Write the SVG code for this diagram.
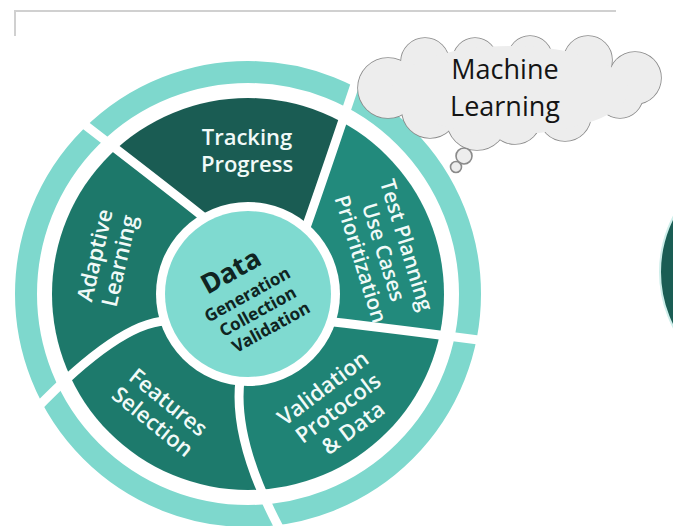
<svg xmlns="http://www.w3.org/2000/svg" width="673" height="526" viewBox="0 0 673 526">
  <style>
    .seg { stroke: none; }
    .lbl { font-family: "Open Sans", "Liberation Sans", sans-serif; font-weight: 600; font-size: 22px; fill: #f1faf8; text-anchor: middle; }
    .core { font-family: "Noto Sans", "Liberation Sans", sans-serif; font-weight: 700; fill: #0f2421; text-anchor: middle; }
    .divider { fill: none; stroke: #ffffff; stroke-width: 9; }
    .puff { fill: #ededed; stroke: #8a8a8a; stroke-width: 1.6; }
    .puff-fill { fill: #ededed; stroke: none; }
    .cloud-text { font-family: "Open Sans", "Liberation Sans", sans-serif; font-size: 27px; fill: #141414; text-anchor: middle; }
  </style>
  <defs>
    <clipPath id="disk">
      <circle cx="248" cy="294" r="196"/>
    </clipPath>
  </defs>

  <rect width="673" height="526" fill="#ffffff"/>

  <!-- page frame corner -->
  <path d="M15 36 V11 H616" fill="none" stroke="#d0d0d0" stroke-width="2"/>

  <!-- disc peeking in from the right edge -->
  <g id="edge-disc">
    <circle cx="780" cy="272" r="120" fill="#1a5d54" stroke="#cdeeea" stroke-width="2"/>
  </g>

  <!-- outer light ring -->
  <g id="outer-ring">
    <circle cx="248" cy="294" r="222" fill="none" stroke="#7ed8cd" stroke-width="22"/>
  </g>

  <!-- wheel segments -->
  <g id="tracking-progress">
    <path class="seg" clip-path="url(#disk)" fill="#1a5c53" d="M205.9 219 Q173.2 192.75 76.9 118.7 A245 245 0 0 1 358.1 75.1 Q319.35 190.35 305.2 229.8 Z"/>
  </g>
  <g id="test-planning">
    <path class="seg" clip-path="url(#disk)" fill="#228a7c" d="M305.2 229.8 Q319.35 190.35 358.1 75.1 A245 245 0 0 1 490 341.5 Q390.5 328.5 329 321.5 Z"/>
  </g>
  <g id="validation-protocols">
    <path class="seg" clip-path="url(#disk)" fill="#1f8375" d="M329 321.5 Q390.5 328.5 490 341.5 A245 245 0 0 1 283 535 Q232.5 442.5 240 380 Z"/>
  </g>
  <g id="features-selection">
    <path class="seg" clip-path="url(#disk)" fill="#1d7a6c" d="M240 380 Q232.5 442.5 283 535 A245 245 0 0 1 35 410 Q119.5 322.5 166 321 Z"/>
  </g>
  <g id="adaptive-learning">
    <path class="seg" clip-path="url(#disk)" fill="#1d786a" d="M166 321 Q119.5 322.5 35 410 A245 245 0 0 1 76.9 118.7 Q173.2 192.75 205.9 219 Z"/>
  </g>

  <!-- white curved dividers cutting through segments and ring -->
  <g id="dividers">
    <path class="divider" d="M205.9 219 Q173.2 192.75 76.9 118.7"/>
    <path class="divider" d="M305.2 229.8 Q319.35 190.35 358.1 75.1"/>
    <path class="divider" d="M329 321.5 Q390.5 328.5 490 341.5"/>
    <path class="divider" d="M240 380 Q232.5 442.5 283 535"/>
    <path class="divider" d="M166 321 Q119.5 322.5 35 410"/>
  </g>

  <!-- segment labels -->
  <g id="labels">
    <text class="lbl" x="247" y="145">Tracking</text>
    <text class="lbl" x="247" y="172">Progress</text>

    <g transform="translate(107,258) rotate(-77)">
      <text class="lbl" x="0" y="-4.8">Adaptive</text>
      <text class="lbl" x="0" y="20.2">Learning</text>
    </g>

    <g transform="translate(384,252) rotate(73)">
      <text class="lbl" style="font-size:21px" x="0" y="-16.3">Test Planning</text>
      <text class="lbl" style="font-size:21px" x="0" y="7.7">Use Cases</text>
      <text class="lbl" style="font-size:21px" x="0" y="31.7">Prioritization</text>
    </g>

    <g transform="translate(160.5,412) rotate(39)">
      <text class="lbl" x="0" y="-4.8">Features</text>
      <text class="lbl" x="0" y="20.2">Selection</text>
    </g>

    <g transform="translate(338,408) rotate(-37)">
      <text class="lbl" x="0" y="-17.3">Validation</text>
      <text class="lbl" x="0" y="7.7">Protocols</text>
      <text class="lbl" x="0" y="32.7">&amp; Data</text>
    </g>
  </g>

  <!-- hub -->
  <g id="data-hub">
    <circle cx="248" cy="294" r="92" fill="#ffffff"/>
    <circle cx="248" cy="294" r="83" fill="#7fdad0"/>
    <g transform="translate(248,294) rotate(-29)">
      <text class="core" x="-4" y="-19" font-size="27">Data</text>
      <text class="core" x="-1" y="6" font-size="17">Generation</text>
      <text class="core" x="0" y="26" font-size="17">Collection</text>
      <text class="core" x="4" y="46" font-size="17">Validation</text>
    </g>
  </g>

  <!-- thought cloud -->
  <g id="ml-cloud">
    <g>
      <circle class="puff" cx="388" cy="88" r="30"/>
      <circle class="puff" cx="430" cy="110" r="28"/>
      <circle class="puff" cx="477" cy="120" r="30"/>
      <circle class="puff" cx="515" cy="118" r="26"/>
      <circle class="puff" cx="565" cy="115" r="26"/>
      <circle class="puff" cx="620" cy="95" r="23"/>
      <circle class="puff" cx="635" cy="78" r="26"/>
      <circle class="puff" cx="425" cy="62" r="24"/>
      <circle class="puff" cx="475" cy="60" r="22"/>
      <circle class="puff" cx="530" cy="58" r="22"/>
      <circle class="puff" cx="588" cy="60" r="24"/>
    </g>
    <g>
      <circle class="puff-fill" cx="388" cy="88" r="30"/>
      <circle class="puff-fill" cx="430" cy="110" r="28"/>
      <circle class="puff-fill" cx="477" cy="120" r="30"/>
      <circle class="puff-fill" cx="515" cy="118" r="26"/>
      <circle class="puff-fill" cx="565" cy="115" r="26"/>
      <circle class="puff-fill" cx="620" cy="95" r="23"/>
      <circle class="puff-fill" cx="635" cy="78" r="26"/>
      <circle class="puff-fill" cx="425" cy="62" r="24"/>
      <circle class="puff-fill" cx="475" cy="60" r="22"/>
      <circle class="puff-fill" cx="530" cy="58" r="22"/>
      <circle class="puff-fill" cx="588" cy="60" r="24"/>
      <ellipse class="puff-fill" cx="510" cy="90" rx="118" ry="44"/>
    </g>
    <circle class="puff" cx="464" cy="156" r="8"/>
    <circle class="puff" cx="456" cy="167" r="5.5"/>
    <text class="cloud-text" x="505" y="79">Machine</text>
    <text class="cloud-text" x="505" y="116">Learning</text>
  </g>
</svg>
